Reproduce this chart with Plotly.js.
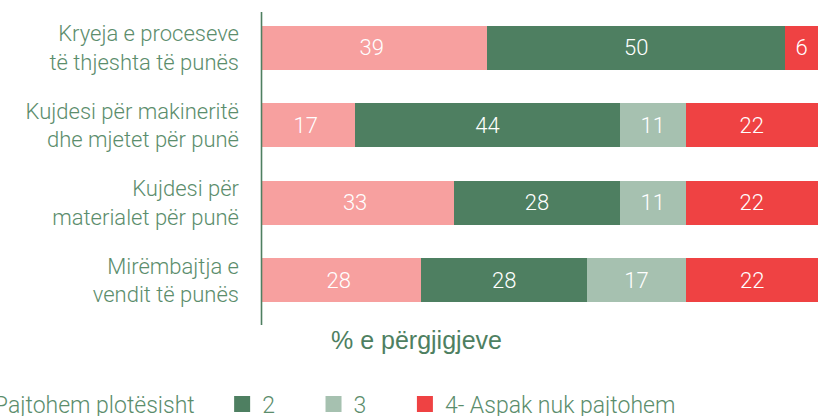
<!DOCTYPE html>
<html>
<head>
<meta charset="utf-8">
<script src="https://cdn.plot.ly/plotly-3.0.1.min.js"></script>
<style>html,body{margin:0;padding:0;background:#fff;}#chart{width:818px;height:416px;}</style>
</head>
<body>
<div id="chart"></div>
<script>
const categories = [
  "Kryeja e proceseve<br>të thjeshta të punës",
  "Kujdesi për makineritë<br>dhe mjetet për punë",
  "Kujdesi për<br>materialet për punë",
  "Mirëmbajtja e<br>vendit të punës"
];
const seriesNames = ["1- Pajtohem plotësisht", "2", "3", "4- Aspak nuk pajtohem"];
const s1 = [38.9, 16.7, 33.3, 27.8];
const s2 = [50.0, 44.4, 27.8, 27.8];
const s3 = [null, 11.1, 11.1, 16.7];
const s4 = [5.6, 22.2, 22.2, 22.2];
const colors = ["#f7a09f", "#4e7f61", "#a6c1b0", "#ef4243"];
const axisTitle = "% e përgjigjeve";

const font = "Roboto, 'Noto Sans', sans-serif";
const textGreen = "#5b8d6c";
const nb = n => "\u00a0".repeat(n);
const legendPad = [4, 6, 6, 0];
const allSeries = [s1, s2, s3, s4];
const traces = allSeries.map((vals, i) => ({
  type: "bar",
  orientation: "h",
  name: seriesNames[i],
  y: categories,
  x: vals,
  showlegend: false,
  marker: {color: colors[i], line: {width: 0}},
  texttemplate: "%{x:.0f}",
  textposition: "inside",
  insidetextanchor: "middle",
  textangle: 0,
  insidetextfont: {family: font, size: 22, color: "#ffffff", weight: 300},
  hoverinfo: "skip"
}));
// legend entries (same series, shown with larger square swatches)
seriesNames.forEach((nm, i) => traces.push({
  type: "scatter", mode: "markers", name: nm + nb(legendPad[i]),
  x: [null], y: [null], showlegend: true, hoverinfo: "skip",
  marker: {symbol: "square", size: 17, color: colors[i]}
}));

const layout = {
  width: 818, height: 416,
  barmode: "stack",
  bargap: 0.43,
  paper_bgcolor: "#ffffff",
  plot_bgcolor: "#ffffff",
  margin: {l: 256, r: 0, t: 9, b: 97, autoexpand: false},
  font: {family: font, color: textGreen},
  xaxis: {range: [0, 94.44], showgrid: false, zeroline: false, showline: false, showticklabels: false, ticks: ""},
  yaxis: {autorange: "reversed", showgrid: false, zeroline: false, showline: false, ticks: "",
          ticklabelstandoff: 16, tickfont: {family: font, size: 22, color: textGreen, weight: 300}},
  showlegend: true,
  legend: {orientation: "h", x: -0.582, xanchor: "left", y: -0.274, yanchor: "middle",
           font: {family: font, size: 23, color: textGreen, weight: 300}, traceorder: "normal",
           itemclick: false, itemdoubleclick: false},
  shapes: [
    {type: "rect", xref: "paper", yref: "paper", x0: -0.01, x1: 0.0089, y0: -0.05, y1: 1.05,
     fillcolor: "#ffffff", line: {width: 0}, layer: "above"},
    {type: "line", xref: "paper", yref: "paper", x0: 0.0098, x1: 0.0098, y0: -0.019, y1: 0.99,
     line: {color: "#4e7f61", width: 1.6}, layer: "above"}
  ],
  annotations: [
    {text: axisTitle, xref: "paper", yref: "paper", x: 0.2847, y: -0.068, xanchor: "center", yanchor: "middle",
     showarrow: false, font: {family: "'Liberation Sans', Arial, sans-serif", size: 25, color: "#4e7f61"}}
  ]
};

Plotly.newPlot("chart", traces, layout, {staticPlot: true, displayModeBar: false});
</script>
</body>
</html>
